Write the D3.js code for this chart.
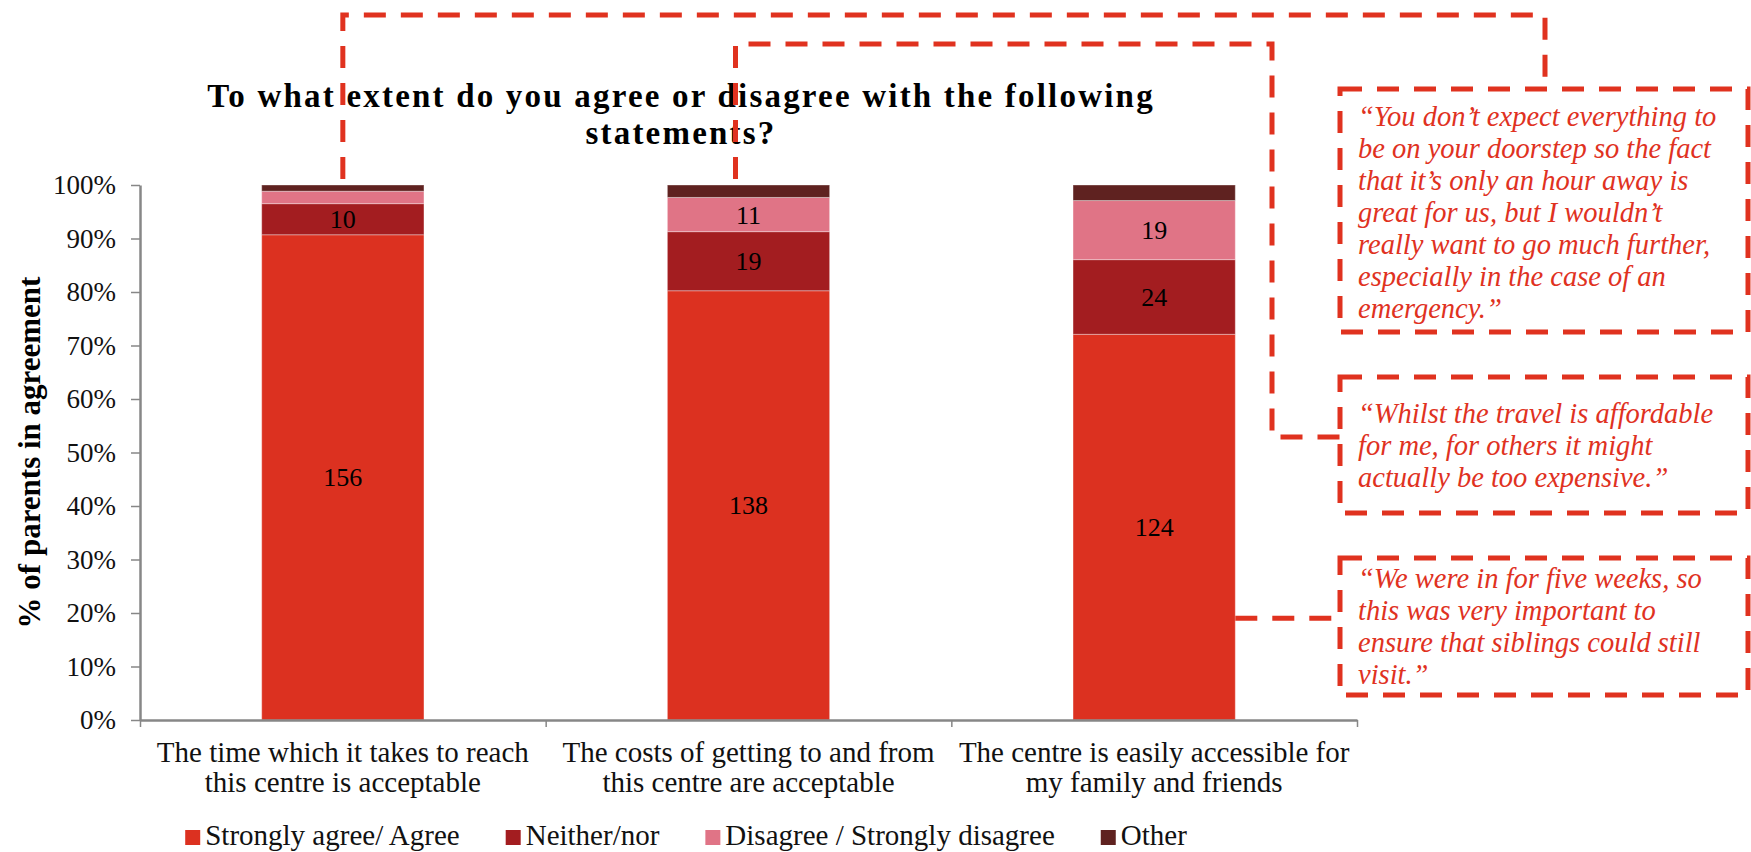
<!DOCTYPE html>
<html>
<head>
<meta charset="utf-8">
<script src="https://cdn.jsdelivr.net/npm/d3@7"></script>
<style>
  body { margin: 0; background: #fff; }
  svg { display: block; font-family: "Liberation Serif", "Times New Roman", serif; }
</style>
</head>
<body>
<div id="chart"></div>
<script>
// Data
let categories = ["time", "costs", "access"];
let categoryLines = [
    ["The time which it takes to reach", "this centre is acceptable"],
    ["The costs of getting to and from", "this centre are acceptable"],
    ["The centre is easily accessible for", "my family and friends"]
];
let seriesNames = ["Strongly agree/ Agree", "Neither/nor", "Disagree / Strongly disagree", "Other"];
let agreeCounts = [156, 138, 124];
let neitherCounts = [10, 19, 24];
let disagreeCounts = [4, 11, 19];
let otherCounts = [2, 4, 5];
let seriesColors = ["#dc3120", "#a31d20", "#e07486", "#5f2220"];
let yTicks = [0, 0.1, 0.2, 0.3, 0.4, 0.5, 0.6, 0.7, 0.8, 0.9, 1];

let titleLines = ["To what extent do you agree or disagree with the following", "statements?"];
let yTitle = "% of parents in agreement";

let quoteTime = [
    "\u201cYou don\u2019t expect everything to",
    "be on your doorstep so the fact",
    "that it\u2019s only an hour away is",
    "great for us, but I wouldn\u2019t",
    "really want to go much further,",
    "especially in the case of an",
    "emergency.\u201d"
];
let quoteCost = [
    "\u201cWhilst the travel is affordable",
    "for me, for others it might",
    "actually be too expensive.\u201d"
];
let quoteAccess = [
    "\u201cWe were in for five weeks, so",
    "this was very important to",
    "ensure that siblings could still",
    "visit.\u201d"
];

// SVG variables
let svgWidth = 1751;
let svgHeight = 852;
let chartMargin = { top: 185, right: 394, bottom: 132, left: 140 };
let chartWidth = svgWidth - chartMargin.left - chartMargin.right;
let chartHeight = svgHeight - chartMargin.top - chartMargin.bottom;

let axisGrey = "#878787";
let quoteRed = "#e0321f";

let svg = d3.select("#chart").append("svg")
    .attr("width", svgWidth)
    .attr("height", svgHeight);

let chart = svg.append("g")
    .attr("transform", `translate(${chartMargin.left}, ${chartMargin.top})`);

let rows = categories.map((c, i) => ({
    cat: c,
    [seriesNames[0]]: agreeCounts[i],
    [seriesNames[1]]: neitherCounts[i],
    [seriesNames[2]]: disagreeCounts[i],
    [seriesNames[3]]: otherCounts[i]
}));

let stacked = d3.stack()
    .keys(seriesNames)
    .offset(d3.stackOffsetExpand)(rows);

let x = d3.scaleBand()
    .domain(categories)
    .range([0, chartWidth])
    .paddingInner(0.6)
    .paddingOuter(0.3);

let y = d3.scaleLinear()
    .domain([0, 1])
    .range([chartHeight, 0]);

let color = d3.scaleOrdinal()
    .domain(seriesNames)
    .range(seriesColors);

// Bars
let layers = chart.selectAll(".layer")
    .data(stacked)
    .enter().append("g")
    .attr("class", "layer")
    .attr("fill", d => color(d.key));

layers.selectAll("rect")
    .data(d => d)
    .enter().append("rect")
    .attr("x", d => x(d.data.cat))
    .attr("y", d => y(d[1]))
    .attr("width", x.bandwidth())
    .attr("height", d => y(d[0]) - y(d[1]))
    .attr("stroke", "rgba(255,255,255,0.35)")
    .attr("stroke-width", 1);

// Value labels (small segments left blank like the original)
layers.each(function(layer) {
    d3.select(this).selectAll("text")
        .data(layer.filter(d => layer.key !== "Other" && d.data[layer.key] >= 10))
        .enter().append("text")
        .attr("x", d => x(d.data.cat) + x.bandwidth() / 2)
        .attr("y", d => (y(d[0]) + y(d[1])) / 2)
        .attr("dy", "0.35em")
        .attr("text-anchor", "middle")
        .attr("fill", "#000")
        .style("font-size", "26px")
        .text(d => d.data[layer.key]);
});

// Y axis
let yAxis = chart.append("g")
    .call(d3.axisLeft(y).tickValues(yTicks).tickFormat(d3.format(".0%")).tickSize(9).tickSizeOuter(0).tickPadding(15));
yAxis.select(".domain").attr("stroke", axisGrey).attr("stroke-width", 2.5);
yAxis.selectAll(".tick line").attr("stroke", axisGrey).attr("stroke-width", 1.5);
yAxis.selectAll(".tick text")
    .attr("fill", "#111")
    .style("font-family", "'Liberation Serif', serif")
    .style("font-size", "27px");

// X axis: ticks sit on the band boundaries
let xEdges = d3.scaleLinear().domain([0, categories.length]).range([0, chartWidth]);
let xAxis = chart.append("g")
    .attr("transform", `translate(0, ${chartHeight})`)
    .call(d3.axisBottom(xEdges).tickValues(d3.range(categories.length + 1)).tickFormat("").tickSize(7).tickSizeOuter(0));
xAxis.select(".domain").attr("stroke", axisGrey).attr("stroke-width", 2.5);
xAxis.selectAll(".tick line").attr("stroke", axisGrey).attr("stroke-width", 1.5);

chart.selectAll(".cat-label")
    .data(categories)
    .enter().append("text")
    .attr("class", "cat-label")
    .attr("text-anchor", "middle")
    .attr("fill", "#111")
    .style("font-size", "29px")
    .each(function(c, i) {
        d3.select(this).selectAll("tspan")
            .data(categoryLines[i])
            .enter().append("tspan")
            .attr("x", x(c) + x.bandwidth() / 2)
            .attr("y", (d, j) => chartHeight + 42 + j * 30)
            .text(d => d);
    });

// Title
svg.append("text")
    .attr("text-anchor", "middle")
    .attr("font-weight", "bold")
    .attr("fill", "#000")
    .style("font-size", "33px")
    .style("letter-spacing", "2.2px")
    .selectAll("tspan")
    .data(titleLines)
    .enter().append("tspan")
    .attr("x", 681)
    .attr("y", (d, i) => 107 + i * 37)
    .text(d => d);

// Y axis title
svg.append("text")
    .attr("transform", `translate(40, ${chartMargin.top + chartHeight / 2}) rotate(-90)`)
    .attr("text-anchor", "middle")
    .attr("font-weight", "bold")
    .attr("fill", "#000")
    .style("font-size", "31px")
    .text(yTitle);

// Legend
let legend = svg.append("g").attr("class", "legend");
let legendX = 0;
seriesNames.forEach((name, i) => {
    let item = legend.append("g").attr("transform", `translate(${legendX}, 0)`);
    item.append("rect")
        .attr("x", 0).attr("y", -15)
        .attr("width", 15).attr("height", 15)
        .attr("fill", color(name));
    let label = item.append("text")
        .attr("x", 20)
        .attr("fill", "#111")
        .style("font-size", "29px")
        .text(name);
    legendX += 20 + label.node().getComputedTextLength() + 46;
});
let legendWidth = legendX - 46;
legend.attr("transform", `translate(${686 - legendWidth / 2}, 845)`);

// Quote boxes and connectors
let boxLeft = 1340;
let boxWidth = 408;
let dash = "22 15";
let boxes = [
    { top: 89, bottom: 332, firstBase: 126, lines: quoteTime },
    { top: 377, bottom: 513, firstBase: 423, lines: quoteCost },
    { top: 558, bottom: 695, firstBase: 588, lines: quoteAccess }
];

let quoteGroup = svg.append("g");
boxes.forEach(b => {
    quoteGroup.append("rect")
        .attr("x", boxLeft)
        .attr("y", b.top)
        .attr("width", boxWidth)
        .attr("height", b.bottom - b.top)
        .attr("fill", "none")
        .attr("stroke", quoteRed)
        .attr("stroke-width", 5)
        .attr("stroke-dasharray", dash);
    quoteGroup.append("text")
        .attr("fill", quoteRed)
        .attr("font-style", "italic")
        .style("font-size", "28.5px")
        .selectAll("tspan")
        .data(b.lines)
        .enter().append("tspan")
        .attr("x", boxLeft + 18)
        .attr("y", (d, i) => b.firstBase + i * 32)
        .text(d => d);
});

let line = d3.line();
let barTop = chartMargin.top + y(1) - 6;
let bar1Mid = chartMargin.left + x(categories[0]) + x.bandwidth() / 2;
let bar2Mid = chartMargin.left + x(categories[1]) + x.bandwidth() / 2 - 13;
let bar3Right = chartMargin.left + x(categories[2]) + x.bandwidth();

let connectors = [
    [[bar1Mid, barTop], [bar1Mid, 15], [1545, 15], [1545, boxes[0].top]],
    [[bar2Mid, barTop], [bar2Mid, 44], [1272, 44], [1272, 437], [boxLeft, 437]],
    [[bar3Right, chartMargin.top + y(0.19)], [boxLeft, chartMargin.top + y(0.19)]]
];

svg.append("g").selectAll("path")
    .data(connectors)
    .enter().append("path")
    .attr("d", d => line(d))
    .attr("fill", "none")
    .attr("stroke", quoteRed)
    .attr("stroke-width", 5)
    .attr("stroke-dasharray", dash);
</script>
</body>
</html>
